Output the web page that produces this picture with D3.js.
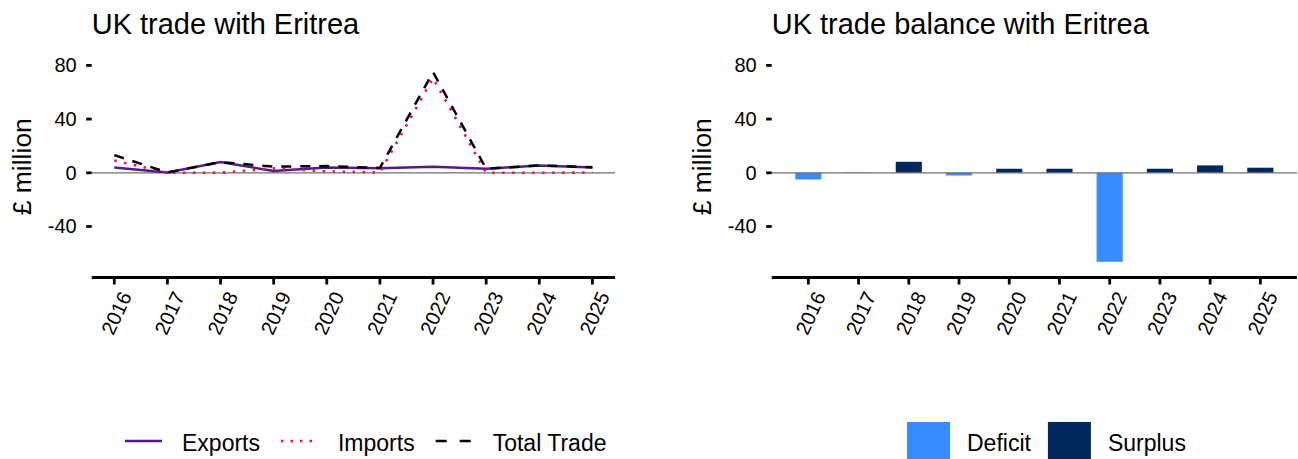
<!DOCTYPE html>
<html>
<head>
<meta charset="utf-8">
<script src="https://cdn.jsdelivr.net/npm/d3@7"></script>
<style>
  body { margin: 0; background: #fff; }
  text { font-family: "Liberation Sans", Arial, sans-serif; fill: #000; }
</style>
</head>
<body>
<svg id="board" width="1298" height="459"></svg>
<script>
// data, £ million
const years = [2016, 2017, 2018, 2019, 2020, 2021, 2022, 2023, 2024, 2025];
const exportsVals = [4.0, 0.2, 8.0, 1.3, 4.0, 3.3, 4.5, 3.0, 5.5, 4.0];
const importsVals = [9.2, 0.0, 0.0, 3.3, 1.0, 0.3, 70.5, 0.0, 0.0, 0.2];
const totalVals = [13.2, 0.2, 8.0, 4.6, 5.0, 3.6, 75.0, 3.0, 5.5, 4.2];
const balanceVals = [-5.0, 0.2, 8.2, -2.0, 3.0, 3.0, -66.3, 3.0, 5.5, 3.8];
const yTicks = [-40, 0, 40, 80];

const seriesNames = ["Exports", "Imports", "Total Trade"];
const seriesColors = ["#531a8f", "#e8173f", "#000000"];
const seriesDash = [null, "2.5,7.5", "10,9"];
const balanceNames = ["Deficit", "Surplus"];
const balanceColors = ["#398cff", "#00285e"];

const board = d3.select("#board");

const y = d3.scaleLinear().domain([-78, 87]).range([277.5, 56]);

const xLine = d3.scaleLinear().domain([2015.575, 2025.425]).range([91.7, 615]);
const xBar = d3.scaleBand().domain(years).range([771.7, 1297]).paddingInner(0.48).paddingOuter(0.47);

function drawPanel(x0, x1, xPos, title) {
    const g = board.append("g");

    g.append("text")
        .attr("x", x0)
        .attr("y", 34)
        .attr("font-size", "29px")
        .text(title);

    // y ticks, no axis line
    yTicks.forEach(t => {
        g.append("line")
            .attr("x1", x0 - 5.5).attr("x2", x0)
            .attr("y1", y(t)).attr("y2", y(t))
            .attr("stroke", "#000").attr("stroke-width", 2.8);
        g.append("text")
            .attr("x", x0 - 15)
            .attr("y", y(t))
            .attr("dy", "0.35em")
            .attr("text-anchor", "end")
            .attr("font-size", "20px")
            .text(t);
    });

    g.append("text")
        .attr("transform", `translate(${x0 - 61},${(y(87) + y(-78)) / 2}) rotate(-90)`)
        .attr("text-anchor", "middle")
        .attr("font-size", "26.5px")
        .text("£ million");

    // zero line
    g.append("line")
        .attr("class", "zero")
        .attr("x1", x0).attr("x2", x1)
        .attr("y1", y(0)).attr("y2", y(0))
        .attr("stroke", "#6e6e6e").attr("stroke-width", 1.2);

    // bottom axis
    g.append("line")
        .attr("x1", x0).attr("x2", x1)
        .attr("y1", y(-78)).attr("y2", y(-78))
        .attr("stroke", "#000").attr("stroke-width", 2.8);

    years.forEach(yr => {
        const px = xPos(yr);
        g.append("line")
            .attr("x1", px).attr("x2", px)
            .attr("y1", y(-78)).attr("y2", y(-78) + 7)
            .attr("stroke", "#000").attr("stroke-width", 2.8);
        g.append("text")
            .attr("transform", `translate(${px + 5},290) rotate(-65)`)
            .attr("text-anchor", "end")
            .attr("dy", "0.71em")
            .attr("font-size", "20px")
            .text(yr);
    });
    return g;
}

// left panel: lines
const gL = drawPanel(91.7, 615, d => xLine(d), "UK trade with Eritrea");
const lineGen = d3.line().x((d, i) => xLine(years[i])).y(d => y(d));
[exportsVals, importsVals, totalVals].forEach((vals, i) => {
    gL.append("path")
        .attr("d", lineGen(vals))
        .attr("fill", "none")
        .attr("stroke", seriesColors[i])
        .attr("stroke-width", i === 1 ? 2.6 : 2.5)
        .attr("stroke-dasharray", seriesDash[i])
        .attr("stroke-linecap", "butt");
});

// right panel: bars
const gR = drawPanel(771.7, 1297, d => xBar(d) + xBar.bandwidth() / 2, "UK trade balance with Eritrea");
gR.selectAll("rect.bar")
    .data(years)
    .join("rect")
    .attr("class", "bar")
    .attr("x", d => xBar(d))
    .attr("width", xBar.bandwidth())
    .attr("y", (d, i) => y(Math.max(0, balanceVals[i])))
    .attr("height", (d, i) => Math.abs(y(balanceVals[i]) - y(0)))
    .attr("fill", (d, i) => balanceVals[i] < 0 ? balanceColors[0] : balanceColors[1]);
// keep zero line above the bars
gR.select("line.zero").raise();

// left legend
let lx = 125;
seriesNames.forEach((name, i) => {
    board.append("line")
        .attr("x1", lx).attr("x2", lx + 37)
        .attr("y1", 441).attr("y2", 441)
        .attr("stroke", seriesColors[i])
        .attr("stroke-width", 2.6)
        .attr("stroke-dasharray", seriesDash[i] === null ? null : (i === 1 ? "2.5,7" : "11,13"));
    const t = board.append("text")
        .attr("x", lx + 57)
        .attr("y", 443)
        .attr("dy", "0.36em")
        .attr("font-size", "23px")
        .text(name);
    lx += 57 + t.node().getComputedTextLength() + 21;
});

// right legend
let rx = 907;
balanceNames.forEach((name, i) => {
    board.append("rect")
        .attr("x", rx).attr("y", 422)
        .attr("width", 43).attr("height", 43)
        .attr("fill", balanceColors[i]);
    const t = board.append("text")
        .attr("x", rx + 60)
        .attr("y", 443)
        .attr("dy", "0.36em")
        .attr("font-size", "23px")
        .text(name);
    rx += 60 + t.node().getComputedTextLength() + 17;
});
</script>
</body>
</html>
